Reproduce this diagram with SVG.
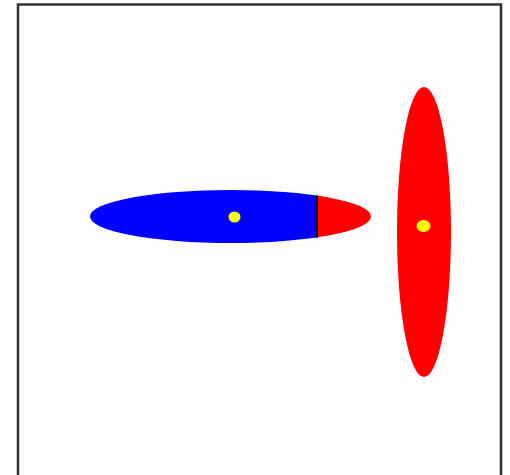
<svg xmlns="http://www.w3.org/2000/svg" width="510" height="475" viewBox="0 0 510 475">
<defs>
<clipPath id="blueClip"><rect x="0" y="0" width="317" height="475"/></clipPath>
<clipPath id="redClip"><rect x="317" y="0" width="193" height="475"/></clipPath>
</defs>
<style>
.dot{fill:#ffff00}
</style>
<rect x="0" y="0" width="510" height="475" fill="#fefefe"/>
<rect x="18" y="4.5" width="483" height="480" fill="#fefefe" stroke="#333" stroke-width="2.5"/>
<g id="horizontal">
<ellipse cx="230.5" cy="216.5" rx="140.5" ry="26.5" fill="#0000ff" clip-path="url(#blueClip)"/>
<ellipse cx="230.5" cy="216.5" rx="140.5" ry="26.5" fill="#ff0000" clip-path="url(#redClip)"/>
<line x1="317" y1="195.5" x2="317" y2="237.5" stroke="#000" stroke-width="2"/>
<ellipse class="dot" cx="234.5" cy="217" rx="6" ry="5.5"/>
</g>
<g id="vertical">
<ellipse cx="424" cy="232" rx="27" ry="145" fill="#ff0000"/>
<ellipse class="dot" cx="423.5" cy="226" rx="7" ry="6"/>
</g>
</svg>
